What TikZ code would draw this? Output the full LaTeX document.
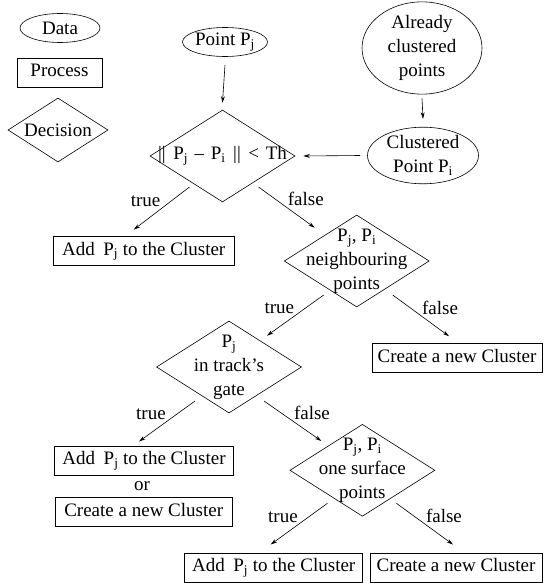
\documentclass[tikz,border=0pt]{standalone}
\usepackage{fontspec}
\setmainfont{Liberation Serif}
\usetikzlibrary{shapes.geometric, arrows.meta}

\begin{document}
\begin{tikzpicture}[x=1pt, y=-1pt, font=\fontsize{19}{24}\selectfont,
  line width=0.6pt, >={Stealth[length=6.5pt,width=3.8pt]},
  data/.style={ellipse, draw, inner sep=0pt, align=center},
  process/.style={rectangle, draw, inner sep=0pt, minimum height=29pt,
    text height=13pt, text depth=4pt},
  decision/.style={diamond, draw, inner sep=0pt, minimum width=145pt, minimum height=92pt},
  txt/.style={inner sep=1pt}]
  \useasboundingbox (0,0) rectangle (543,583);

  % legend
  \node[data, minimum width=80pt, minimum height=29pt] (legdata) at (60,28) {Data};
  \node[process, minimum width=85pt] (legproc) at (59.5,72.5) {Process};
  \node[decision, minimum width=100pt, minimum height=64pt, label=center:Decision] (legdec) at (58,130) {};

  % inputs
  \node[data, minimum width=85pt, minimum height=29pt] (pj) at (225,42) {Point P\textsubscript{j}};
  \node[data, minimum width=120pt, minimum height=80pt] (clust) at (422,48) {Already\\clustered\\points};
  \node[data, minimum width=111pt, minimum height=55pt] (pi) at (423,155.5) {Clustered\\Point P\textsubscript{i}};

  % decisions
  \node[decision, label={center:{\textbar\textbar\hspace{0.4em}P\textsubscript{j}\hspace{0.35em}--\hspace{0.35em}P\textsubscript{i}\hspace{0.4em}\textbar\textbar\hspace{0.4em}<\hspace{0.35em}Th}}] (d1) at (222.5,156) {};
  \node[decision, label={[align=center]center:{P\textsubscript{j}, P\textsubscript{i}\\neighbouring\\points}}] (d2) at (356.7,261) {};
  \node[decision, label={[align=center]center:{P\textsubscript{j}\\in track’s\\gate}}] (d3) at (229,367) {};
  \node[decision, label={[align=center]center:{P\textsubscript{j}, P\textsubscript{i}\\one surface\\points}}] (d4) at (362.4,470.3) {};

  % results
  \node[process, minimum width=181pt] (add1) at (143.7,250.5) {Add\hspace{0.45em}P\textsubscript{j} to the Cluster};
  \node[process, minimum width=170pt] (new1) at (457,358) {Create a new Cluster};
  \node[process, minimum width=179pt] (add2) at (144,460.3) {Add\hspace{0.45em}P\textsubscript{j} to the Cluster};
  \node[txt] (or) at (142,486) {or};
  \node[process, minimum width=177pt] (new2) at (143.7,512.2) {Create a new Cluster};
  \node[process, minimum width=178pt] (add3) at (273.7,567.3) {Add\hspace{0.45em}P\textsubscript{j} to the Cluster};
  \node[process, minimum width=172pt] (new3) at (456,567.3) {Create a new Cluster};

  \draw[->] ([shift={(0,8)}]pj.south) -- ([shift={(0,-7)}]d1.north);
  \draw[->] ([shift={(0,4)}]clust.south) -- ([shift={(0,-8)}]pi.north);
  \draw[->] ([shift={(-7,0)}]pi.west) -- ([shift={(8,0)}]d1.east);

  \draw[->] ([shift={(-33,31)}]d1.center) -- ([shift={(-10,-6)}]add1.north) node[midway, above left, txt] {true};
  \draw[->] ([shift={(36,31)}]d1.center) -- ([shift={(-42,13)}]d2.north) node[midway, above right, txt] {false};

  \draw[->] ([shift={(-33,34)}]d2.center) -- ([shift={(38,15)}]d3.north) node[midway, above left, txt] {true};
  \draw[->] ([shift={(36,34)}]d2.center) -- ([shift={(-8,-7)}]new1.north) node[midway, above right, txt] {false};

  \draw[->] ([shift={(-34,34)}]d3.center) -- ([shift={(-5,-4)}]add2.north) node[midway, above left, txt] {true};
  \draw[->] ([shift={(35,34)}]d3.center) -- ([shift={(-41,17)}]d4.north) node[midway, above right, txt] {false};

  \draw[->] ([shift={(-35,33)}]d4.center) -- ([shift={(-3,-8)}]add3.north) node[midway, above left, txt] {true};
  \draw[->] ([shift={(34,33)}]d4.center) -- ([shift={(-3,-8)}]new3.north) node[midway, above right, txt] {false};
\end{tikzpicture}
\end{document}
